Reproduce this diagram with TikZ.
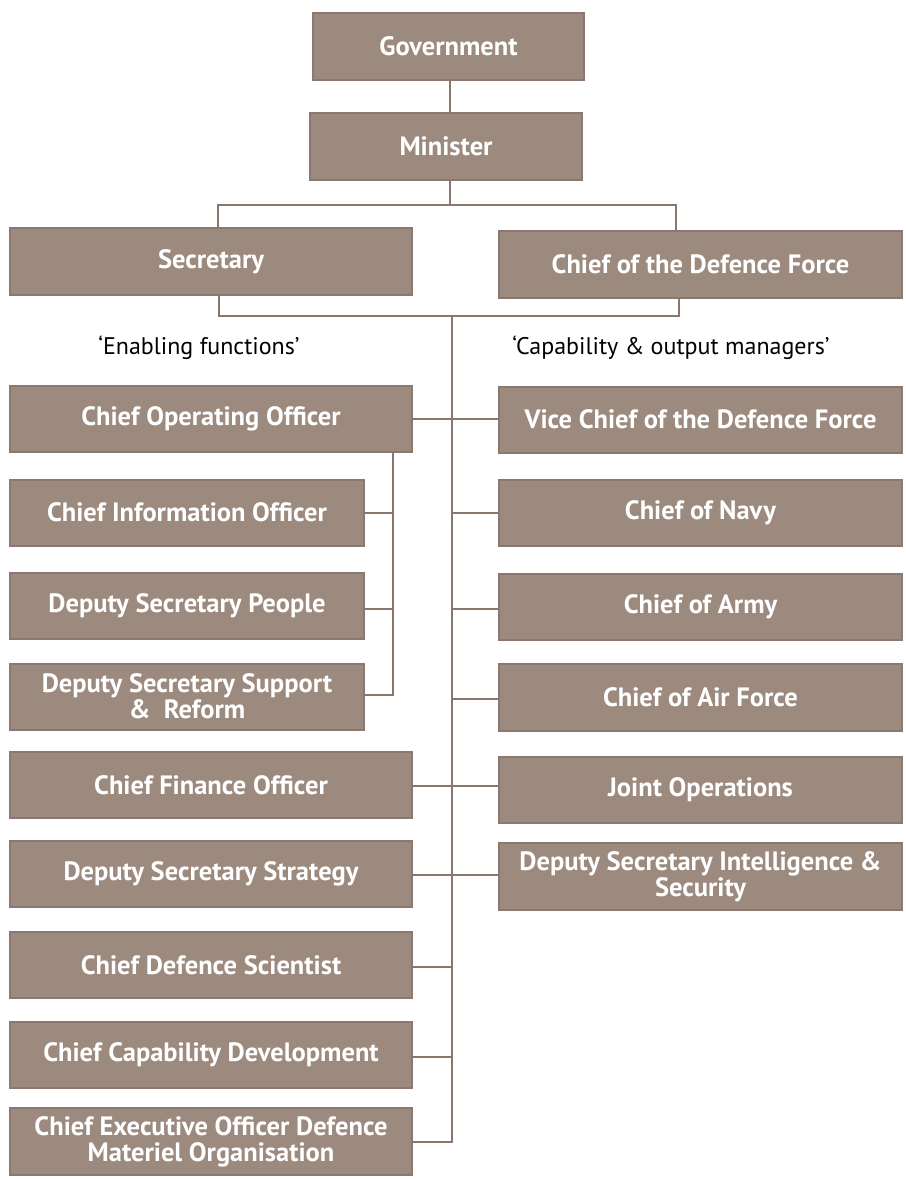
\documentclass[tikz,border=0pt]{standalone}
\usepackage{fontspec}
\setmainfont{PT Sans}
\begin{document}
\definecolor{boxfill}{HTML}{9C8A7F}
\definecolor{boxline}{HTML}{8B7870}
\definecolor{connc}{HTML}{8A766C}
\begin{tikzpicture}[x=1pt,y=-1pt,
  box/.style={draw=boxline, line width=2pt, fill=boxfill, text=white,
    font=\fontsize{26.5}{26}\selectfont\bfseries, align=center, inner sep=0pt},
  wide/.style={box, minimum width=402pt, minimum height=66pt},
  narrow/.style={box, minimum width=354pt, minimum height=66pt},
  conn/.style={draw=connc, line width=2pt},
  lab/.style={font=\fontsize{24}{26}\selectfont, text=black}]
\useasboundingbox[fill=white] (0,0) rectangle (905,1180);

\node[box, minimum width=271pt, minimum height=67pt] (gov) at (448.5,46.5) {Government};
\node[box, minimum width=272pt, minimum height=67pt] (min) at (446,146.5) {Minister};
\node[wide, minimum height=67pt] (sec) at (211,261.5) {Secretary};
\node[wide, minimum width=403pt, minimum height=67pt] (cdf) at (700.5,264.5) {Chief of the Defence Force};

\node[lab] (enab) at (199,348) {‘Enabling functions’};
\node[lab] (capo) at (671,348) {‘Capability \& output managers’};

% left column
\node[wide] (coo) at (211,419) {Chief Operating Officer};
\node[narrow] (cio) at (187,512.5) {Chief Information Officer};
\node[narrow] (dsp) at (187,606) {Deputy Secretary People};
\node[narrow] (dssr) at (187,696.5) {Deputy Secretary Support\\\&~~Reform};
\node[wide] (cfo) at (211,785) {Chief Finance Officer};
\node[wide] (dss) at (211,874) {Deputy Secretary Strategy};
\node[wide] (cds) at (211,965) {Chief Defence Scientist};
\node[wide] (ccd) at (211,1054.5) {Chief Capability Development};
\node[wide, minimum height=67pt] (ceo) at (211,1141.5) {Chief Executive Officer Defence\\Materiel Organisation};

% right column
\node[wide, minimum width=403pt] (vcdf) at (700.5,419.5) {Vice Chief of the Defence Force};
\node[wide, minimum width=403pt] (navy) at (700.5,513) {Chief of Navy};
\node[wide, minimum width=403pt] (army) at (700.5,607) {Chief of Army};
\node[wide, minimum width=403pt, minimum height=67pt] (air) at (700.5,697.5) {Chief of Air Force};
\node[wide, minimum width=403pt] (jo) at (700.5,790) {Joint Operations};
\node[wide, minimum width=403pt, minimum height=67pt] (dsis) at (700.5,876.5) {Deputy Secretary Intelligence \&\\Security};

% junction coordinates
\coordinate (tx) at (450,0);
\coordinate (bl) at (218,205);
\coordinate (br) at (676,205);
\coordinate (cl) at (219,316);
\coordinate (cr) at (679,316);
\coordinate (cm) at (452,316);
\coordinate (sub) at (393,0);
\coordinate (ycfo) at (0,786);
\coordinate (ydss) at (0,875);
\coordinate (yarmy) at (0,609);
\coordinate (yair) at (0,699);
\coordinate (ycds) at (0,967);
\coordinate (yccd) at (0,1057);
\coordinate (ydsp) at (0,609);
\coordinate (ydssr) at (0,695);

\draw[conn] (gov.south -| tx) -- (min.north -| tx);
\draw[conn] (min.south -| tx) -- (tx |- bl);
\draw[conn] (sec.north -| bl) -- (bl) -- (br) -- (cdf.north -| br);
\draw[conn] (sec.south -| cl) -- (cl) -- (cr) -- (cdf.south -| cr);
\draw[conn] (cm) -- (ceo.east -| cm) -- (ceo.east);

% through connectors
\draw[conn] (coo.east) -- (coo.east -| vcdf.west);
\draw[conn] (cfo.east |- ycfo) -- (jo.west |- ycfo);
\draw[conn] (dss.east |- ydss) -- (dsis.west |- ydss);

% right side stubs
\draw[conn] (navy.west) -- (navy.west -| cm);
\draw[conn] (army.west |- yarmy) -- (cm |- yarmy);
\draw[conn] (air.west |- yair) -- (cm |- yair);

% left side stubs
\draw[conn] (cds.east |- ycds) -- (cm |- ycds);
\draw[conn] (ccd.east |- yccd) -- (cm |- yccd);

% COO sub-branch
\draw[conn] (coo.south -| sub) -- (sub |- ydssr) -- (dssr.east |- ydssr);
\draw[conn] (cio.east) -- (cio.east -| sub);
\draw[conn] (dsp.east |- ydsp) -- (sub |- ydsp);
\end{tikzpicture}
\end{document}
